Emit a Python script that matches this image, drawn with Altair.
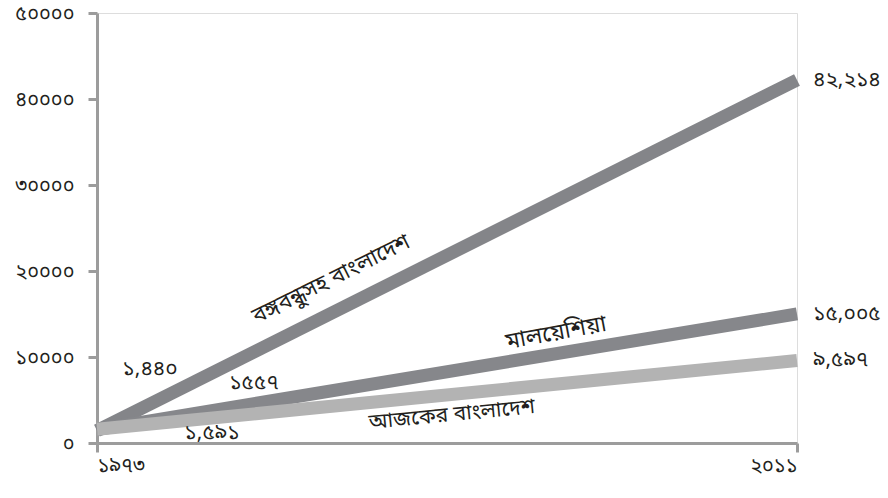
import altair as alt
import pandas as pd

years = [1973, 2011]
series = ["বঙ্গবন্ধুসহ বাংলাদেশ", "মালয়েশিয়া", "আজকের বাংলাদেশ"]
start_values = [1440, 1557, 1591]
end_values = [42214, 15005, 9597]
start_labels = ["১,৪৪০", "১৫৫৭", "১,৫৯১"]
end_labels = ["৪২,২১৪", "১৫,০০৫", "৯,৫৯৭"]
y_ticks = [0, 10000, 20000, 30000, 40000, 50000]
y_tick_labels = ["০", "১০০০০", "২০০০০", "৩০০০০", "৪০০০০", "৫০০০০"]
x_tick_labels = ["১৯৭৩", "২০১১"]
colors = ["#848589", "#86878b", "#b3b3b3"]

FONT = "Noto Sans Bengali, Noto Sans, Lohit Bengali, FreeSans, sans-serif"

rows = []
for s, a, b in zip(series, start_values, end_values):
    rows.append({"series": s, "year": years[0], "value": a})
    rows.append({"series": s, "year": years[1], "value": b})
df = pd.DataFrame(rows)

end_df = pd.DataFrame({"year": [years[1]] * 3, "value": end_values, "label": end_labels})


def label_expr(vals, labels):
    expr = "''"
    for v, l in zip(reversed(vals), reversed(labels)):
        expr = f"datum.value == {v} ? '{l}' : ({expr})"
    return expr


x_scale = alt.Scale(domain=[years[0], years[1]], nice=False, zero=False)
y_scale = alt.Scale(domain=[0, 50000], nice=False)

base = alt.Chart(df)

lines = base.mark_line(strokeWidth=13, strokeCap="butt").encode(
    x=alt.X("year:Q", scale=x_scale, axis=alt.Axis(
        values=years, labelExpr=label_expr(years, x_tick_labels), title=None,
        grid=False, domainColor="#9c9c9c", domainWidth=3, tickColor="#9c9c9c",
        tickWidth=3, tickSize=9, labelPadding=3, labelFontSize=20,
        labelFont=FONT, labelColor="#231f20", labelBaseline="top")),
    y=alt.Y("value:Q", scale=y_scale, axis=alt.Axis(
        values=y_ticks, labelExpr=label_expr(y_ticks, y_tick_labels), title=None,
        grid=False, domainColor="#9c9c9c", domainWidth=3, tickColor="#9c9c9c",
        tickWidth=3, tickSize=9, labelPadding=14, labelFontSize=20,
        labelFont=FONT, labelColor="#231f20")),
    color=alt.Color("series:N", scale=alt.Scale(domain=series, range=colors), legend=None),
    detail="series:N",
)

end_text = alt.Chart(end_df).mark_text(
    align="left", baseline="middle", dx=16, fontSize=21, font=FONT, color="#231f20"
).encode(
    x=alt.X("year:Q", scale=x_scale),
    y=alt.Y("value:Q", scale=y_scale),
    text="label:N",
)


def txt(label, year, value, angle=0, size=21, align="center"):
    return alt.Chart(pd.DataFrame({"t": [label]})).mark_text(
        align=align, baseline="middle", angle=angle, fontSize=size, font=FONT, color="#231f20"
    ).encode(
        x=alt.X(datum=year, scale=x_scale),
        y=alt.Y(datum=value, scale=y_scale),
        text="t:N",
    )


def px2year(px):
    return years[0] + (px - 97) / 700 * (years[1] - years[0])


def py2val(py):
    return (443 - py) / 430 * 50000


layers = [
    lines,
    end_text,
    txt(start_labels[0], px2year(150), py2val(369)),
    txt(start_labels[1], px2year(254), py2val(383)),
    txt(start_labels[2], px2year(212), py2val(433)),
    txt(series[0], px2year(331), py2val(279), angle=333.5, size=22),
    txt(series[1], px2year(556), py2val(333), angle=349.5, size=23),
    txt(series[2], px2year(452), py2val(415), angle=354.5, size=21),
]

chart = alt.layer(*layers).properties(
    width=700, height=430,
    autosize=alt.AutoSizeParams(type="none"),
    padding={"left": 97, "top": 13, "right": 91, "bottom": 55},
).configure_view(stroke=None).configure(background="white")

chart.save("out.html", embed_options={"renderer": "svg", "actions": False})
